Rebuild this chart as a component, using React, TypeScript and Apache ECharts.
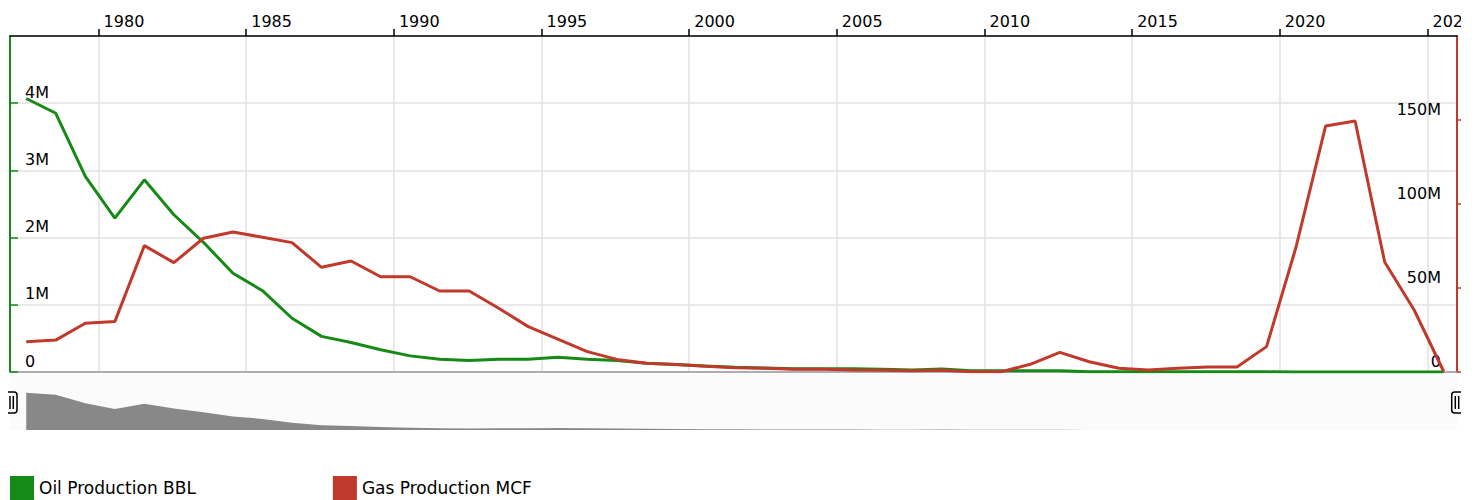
import React, { useEffect, useRef } from "react";
import * as echarts from "echarts";

const FONT = "'DejaVu Sans', Verdana, sans-serif";
const GREEN = "#168a16";
const RED = "#c0392b";

const years = [
  1977, 1978, 1979, 1980, 1981, 1982, 1983, 1984, 1985, 1986, 1987, 1988, 1989,
  1990, 1991, 1992, 1993, 1994, 1995, 1996, 1997, 1998, 1999, 2000, 2001, 2002,
  2003, 2004, 2005, 2006, 2007, 2008, 2009, 2010, 2011, 2012, 2013, 2014, 2015,
  2016, 2017, 2018, 2019, 2020, 2021, 2022, 2023, 2024, 2025,
];

// Oil production (BBL)
const oilBBL = [
  4070000, 3850000, 2910000, 2290000, 2860000, 2340000, 1930000, 1470000,
  1210000, 800000, 530000, 440000, 330000, 240000, 190000, 170000, 190000,
  190000, 220000, 190000, 170000, 130000, 110000, 90000, 70000, 60000, 50000,
  50000, 50000, 40000, 30000, 45000, 20000, 20000, 20000, 20000, 5000, 3000,
  3000, 2000, 2000, 2000, 2000, 1000, 1000, 1000, 1000, 1000, 0,
];

// Gas production (MCF)
const gasMCF = [
  18000000, 19000000, 29000000, 30000000, 75200000, 65100000, 79600000,
  83300000, 80200000, 77000000, 62300000, 66100000, 56700000, 56700000,
  48200000, 48200000, 37900000, 27000000, 19600000, 12100000, 7500000,
  5200000, 4400000, 3400000, 2600000, 2200000, 1600000, 1600000, 1200000,
  1000000, 800000, 1000000, 100000, 100000, 4600000, 11700000, 6100000,
  2200000, 1200000, 2200000, 3000000, 3000000, 15100000, 74400000, 146400000,
  149400000, 65500000, 36900000, 300000,
];

const xTickYears = [1980, 1985, 1990, 1995, 2000, 2005, 2010, 2015, 2020, 2025];
const X_MIN = 1977;
const X_MAX = 2026;
const POINT_OFFSET = 0.55; // points sit part-way through each year

const seriesNames = ["Oil Production BBL", "Gas Production MCF"];

const fmtM = (v: number) => (v === 0 ? "0" : `${v / 1000000}M`);

export default function App() {
  const ref = useRef<HTMLDivElement>(null);

  useEffect(() => {
    document.documentElement.style.overflow = "hidden";
    if (!ref.current) return;
    const chart = echarts.init(ref.current, null, { renderer: "svg" });

    const oilData = years.map((y, i) => [y + POINT_OFFSET, oilBBL[i]]);
    const gasData = years.map((y, i) => [y + POINT_OFFSET, gasMCF[i]]);

    const gridLine = { color: "#e2e2e2", width: 1.5 };

    const handle = (x: number, b1: number, b2: number) => ({
      type: "group",
      children: [
        {
          type: "rect",
          shape: { x, y: 384, width: 15, height: 21, r: 3 },
          style: { fill: "#fff", stroke: "#000", lineWidth: 1.5 },
        },
        {
          type: "line",
          shape: { x1: b1, y1: 388, x2: b1, y2: 401 },
          style: { stroke: "#000", lineWidth: 1.5 },
        },
        {
          type: "line",
          shape: { x1: b2, y1: 388, x2: b2, y2: 401 },
          style: { stroke: "#000", lineWidth: 1.5 },
        },
      ],
    });

    const option: any = {
      animation: false,
      textStyle: { fontFamily: FONT },
      grid: [
        {
          left: 2,
          top: 28,
          width: 1447,
          height: 336,
          containLabel: false,
          outerBoundsMode: "none",
        },
        {
          left: 2,
          top: 366,
          width: 1447,
          height: 56,
          show: true,
          backgroundColor: "#fbfbfb",
          borderWidth: 0,
          containLabel: false,
          outerBoundsMode: "none",
        },
      ],
      xAxis: [
        {
          type: "value",
          gridIndex: 0,
          position: "top",
          min: X_MIN,
          max: X_MAX,
          axisLine: { show: true, onZero: false, lineStyle: { color: "#000", width: 1.5 } },
          axisTick: {
            show: true,
            customValues: xTickYears,
            length: 7,
            lineStyle: { color: "#000", width: 1.5 },
          },
          axisLabel: {
            customValues: xTickYears,
            align: "left",
            padding: [0, 0, 0, 5],
            margin: 7,
            fontSize: 16,
            color: "#000",
            formatter: (v: number) => String(v),
          },
          splitLine: { show: true, lineStyle: gridLine },
        },
        {
          type: "value",
          gridIndex: 0,
          position: "bottom",
          min: X_MIN,
          max: X_MAX,
          axisLine: { show: true, onZero: false, lineStyle: { color: "#999", width: 1.5 } },
          axisTick: { show: false },
          axisLabel: { show: false },
          splitLine: { show: false },
        },
        {
          type: "value",
          gridIndex: 1,
          min: X_MIN,
          max: X_MAX,
          show: false,
        },
      ],
      yAxis: [
        {
          type: "value",
          gridIndex: 0,
          position: "left",
          min: 0,
          max: 5000000,
          interval: 1000000,
          axisLine: { show: true, lineStyle: { color: GREEN, width: 2 } },
          axisTick: { show: true, inside: true, length: 8, lineStyle: { color: GREEN, width: 1.5 } },
          axisLabel: {
            inside: true,
            margin: 15,
            verticalAlign: "bottom",
            padding: [0, 0, 3, 0],
            showMaxLabel: false,
            fontSize: 16,
            color: "#000",
            formatter: fmtM,
          },
          splitLine: { show: true, lineStyle: gridLine },
        },
        {
          type: "value",
          gridIndex: 0,
          position: "right",
          min: 0,
          max: 200000000,
          interval: 50000000,
          axisLine: { show: true, lineStyle: { color: RED, width: 2 } },
          axisTick: { show: true, length: 4, lineStyle: { color: RED, width: 1.5 } },
          axisLabel: {
            inside: true,
            margin: 16,
            verticalAlign: "bottom",
            padding: [0, 0, 3, 0],
            showMaxLabel: false,
            fontSize: 16,
            color: "#000",
            formatter: fmtM,
          },
          splitLine: { show: false },
        },
        {
          type: "value",
          gridIndex: 1,
          min: 0,
          max: 6100000,
          show: false,
        },
      ],
      legend: {
        left: 2,
        top: 468,
        padding: 0,
        itemWidth: 24,
        itemHeight: 24,
        itemGap: 137,
        icon: "rect",
        textStyle: { fontSize: 17, color: "#000", fontFamily: FONT },
        data: seriesNames,
      },
      series: [
        {
          name: seriesNames[0],
          type: "line",
          xAxisIndex: 0,
          yAxisIndex: 0,
          data: oilData,
          symbol: "none",
          lineStyle: { color: GREEN, width: 3 },
          itemStyle: { color: GREEN },
        },
        {
          name: seriesNames[1],
          type: "line",
          xAxisIndex: 0,
          yAxisIndex: 1,
          data: gasData,
          symbol: "none",
          lineStyle: { color: RED, width: 3 },
          itemStyle: { color: RED },
        },
        {
          type: "line",
          xAxisIndex: 2,
          yAxisIndex: 2,
          data: oilData,
          symbol: "none",
          silent: true,
          lineStyle: { width: 0, color: "#888" },
          itemStyle: { color: "#888" },
          areaStyle: { color: "#888", opacity: 1 },
        },
      ],
      graphic: [handle(-6, 2, 5.3), handle(1443.7, 1447.3, 1450.7)],
    };

    chart.setOption(option);
    return () => chart.dispose();
  }, []);

  return <div ref={ref} style={{ width: 1453, height: 530 }} />;
}
